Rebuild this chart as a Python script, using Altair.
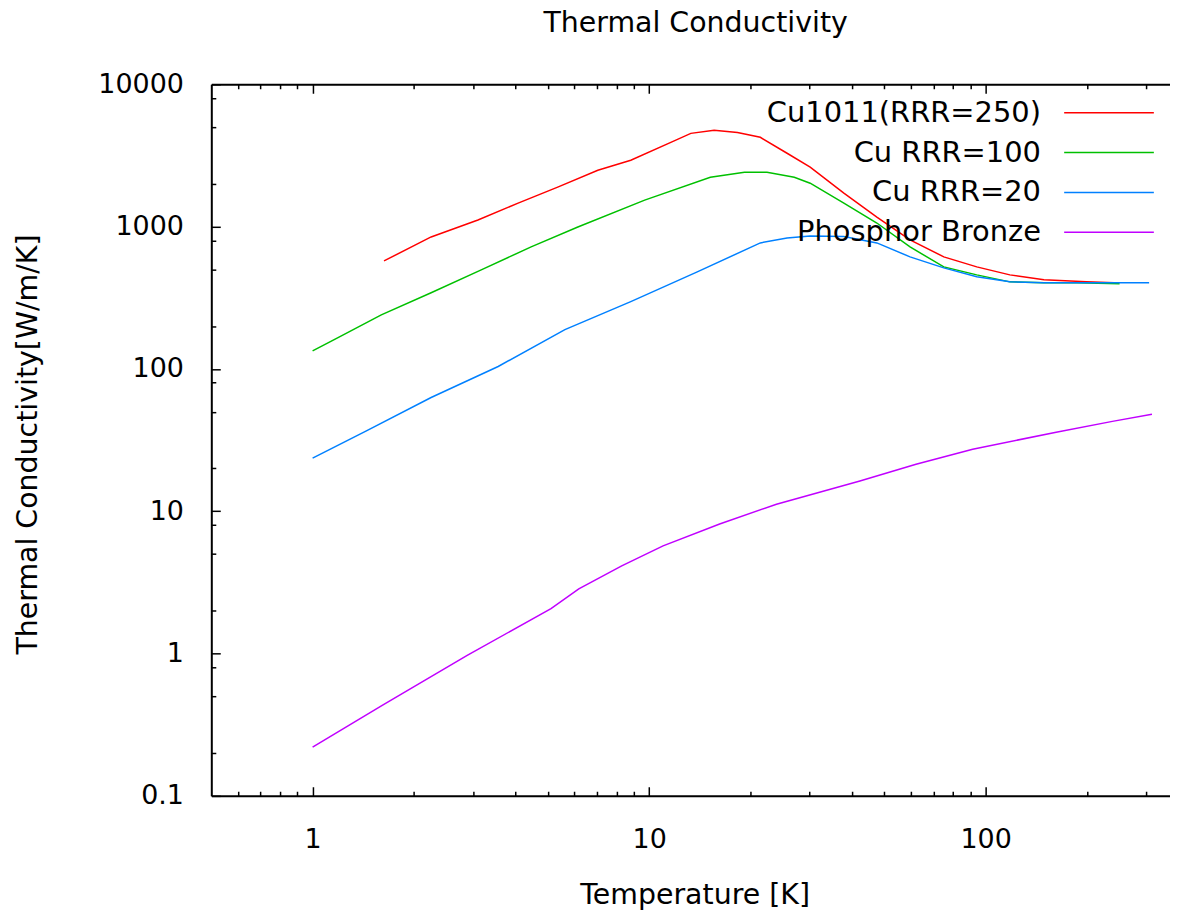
import altair as alt
import pandas as pd

series_names = ["Cu1011(RRR=250)", "Cu RRR=100", "Cu RRR=20", "Phosphor Bronze"]
series_colors = ["#ff0000", "#00c000", "#0080ff", "#c000ff"]

cu250_T = [1.63, 2.25, 3.10, 4.08, 5.35, 7.04, 8.82, 11.6, 13.3, 15.6, 18.3, 21.4,
           25.7, 30.1, 37.9, 47.5, 59.6, 75.1, 94.1, 118, 149, 199, 241]
cu250_k = [574, 846, 1112, 1463, 1893, 2490, 2926, 3910, 4520, 4750, 4590, 4240,
           3277, 2614, 1718, 1167, 806, 613, 521, 458, 423, 409, 403]

cu100_T = [1, 1.19, 1.60, 2.25, 3.17, 4.46, 6.14, 9.70, 15.2, 19.2, 22.4, 27.0,
           30.1, 37.9, 47.5, 59.6, 75.1, 94.1, 118, 149, 186, 250]
cu100_k = [134, 166, 240, 343, 497, 720, 993, 1535, 2224, 2411, 2411, 2224,
           2019, 1463, 1060, 720, 521, 458, 409, 403, 403, 396]

cu20_T = [1, 1.44, 2.25, 3.56, 5.62, 8.82, 13.9, 21.4, 25.7, 30.1, 37.9, 47.5,
          59.6, 75.1, 94.1, 118, 149, 233, 306]
cu20_k = [23.6, 36.5, 63, 104, 189, 297, 481, 768, 832, 860, 851, 768,
          613, 513, 444, 409, 403, 403, 403]

pb_T = [1, 1.61, 2.88, 5.11, 6.18, 8.29, 11.0, 16.2, 23.9, 42.3, 62.1, 91.5, 162, 238, 312]
pb_k = [0.22, 0.432, 0.97, 2.07, 2.85, 4.13, 5.71, 8.14, 11.2, 16.3, 21.4, 27.3, 35.9, 42.8, 48]

x_major = [1, 10, 100]
x_minor = [0.6, 0.7, 0.8, 0.9, 2, 3, 4, 5, 6, 7, 8, 9, 20, 30, 40, 50, 60, 70, 80, 90,
           200, 300]
y_major = [0.1, 1, 10, 100, 1000, 10000]
y_minor = [0.2, 0.5, 0.8, 2, 5, 8, 20, 50, 80, 200, 500, 800, 2000, 5000, 8000]

rows = []
for name, ts, ks in zip(series_names, [cu250_T, cu100_T, cu20_T, pb_T],
                        [cu250_k, cu100_k, cu20_k, pb_k]):
    for t, k in zip(ts, ks):
        rows.append({"series": name, "T": t, "k": k})
df = pd.DataFrame(rows)

FONT = "DejaVu Sans"
FS_TICK = 27
FS_TITLE = 28.5
FS_LEG = 29
W, H = 962, 714
MAJ, MIN = 9, 4.5

xscale = alt.Scale(type="log", domain=[0.5, 353], nice=False)
yscale = alt.Scale(type="log", domain=[0.1, 10000], nice=False)

# inward tick marks drawn as short dashed grid segments at both ends of each grid line
x_major_dash = [MAJ, H - 2 * MAJ, MAJ, 3000]
x_minor_dash = [MIN, H - 2 * MIN, MIN, 3000]
y_major_dash = [MAJ, 3000]
y_minor_dash = [MIN, 3000]

grid_style = dict(grid=True, gridColor="black", gridWidth=1.5, gridOpacity=1)

lines = alt.Chart(df).mark_line(strokeWidth=1.5, clip=True).encode(
    x=alt.X("T:Q", scale=xscale, axis=alt.Axis(
        orient="bottom", values=x_major, format="~g", ticks=False, tickSize=0,
        domain=True, domainColor="black", domainWidth=2,
        gridDash=x_major_dash, **grid_style,
        labelFont=FONT, labelFontSize=FS_TICK, labelColor="black", labelPadding=31,
        labelOverlap=False, labelFlush=False,
        title="Temperature [K]", titleFont=FONT, titleFontSize=FS_TITLE,
        titleFontWeight="normal", titleColor="black",
        titleX=485, titleY=108, titleBaseline="alphabetic", titleAlign="center")),
    y=alt.Y("k:Q", scale=yscale, axis=alt.Axis(
        orient="left", values=y_major, format="~g", ticks=False, tickSize=0,
        domain=True, domainColor="black", domainWidth=2,
        gridDash=y_major_dash, **grid_style,
        labelFont=FONT, labelFontSize=FS_TICK, labelColor="black", labelPadding=28,
        labelOverlap=False, labelFlush=False,
        title="Thermal Conductivity[W/m/K]", titleFont=FONT, titleFontSize=FS_TITLE,
        titleFontWeight="normal", titleColor="black", titleAngle=-90,
        titleX=-175, titleY=361, titleBaseline="alphabetic", titleAlign="center")),
    color=alt.Color("series:N", scale=alt.Scale(domain=series_names, range=series_colors),
                    legend=alt.Legend(
                        title=None, orient="none", legendX=803.5, legendY=14, padding=0,
                        symbolType="M4.2,0H14.2", symbolSize=324, symbolStrokeWidth=1.5,
                        symbolOffset=0, labelAlign="right", labelOffset=0,
                        rowPadding=10,
                        labelFont=FONT, labelFontSize=FS_LEG, labelColor="black", labelLimit=0)),
)

minor_ticks = alt.Chart(df).mark_point(opacity=0).encode(
    x=alt.X("T:Q", scale=xscale, axis=alt.Axis(
        orient="bottom", values=x_minor, labels=False, domain=False, ticks=False,
        gridDash=x_minor_dash, **grid_style, title=None)),
    y=alt.Y("k:Q", scale=yscale, axis=alt.Axis(
        orient="left", values=y_minor, labels=False, domain=False, ticks=False,
        gridDash=y_minor_dash, **grid_style, title=None)),
)

top_border = alt.Chart(df).mark_point(opacity=0).encode(
    x=alt.X("T:Q", scale=xscale, axis=alt.Axis(
        orient="top", values=x_major, labels=False, domain=True, domainColor="black",
        domainWidth=2, ticks=False, grid=False, title=None, minExtent=0)),
    y=alt.Y("k:Q", scale=yscale, axis=None),
)

chart = alt.layer(lines, minor_ticks, top_border).resolve_axis(
    x="independent", y="independent"
).properties(
    width=W, height=H,
    autosize=alt.AutoSizeParams(type="none"),
    padding={"left": 204, "top": 75, "right": 0, "bottom": 116},
    title=alt.TitleParams("Thermal Conductivity", font=FONT, fontSize=FS_TITLE,
                          fontWeight="normal", color="black", anchor="middle",
                          baseline="alphabetic", offset=10, dx=5),
).configure_view(stroke=None).configure(background="white")

chart.save("out.html", embed_options={"renderer": "svg", "actions": False})
